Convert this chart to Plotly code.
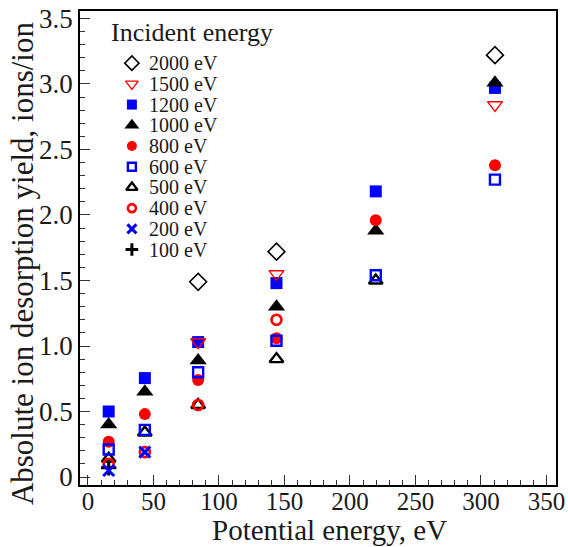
import plotly.graph_objects as go

# ---- data ----
potential = [15.8, 43.4, 84.1, 143.9, 219.7, 310.7]

labels = ["2000 eV", "1500 eV", "1200 eV", "1000 eV", "800 eV",
          "600 eV", "500 eV", "400 eV", "200 eV", "100 eV"]

x2000 = [84.1, 143.9, 310.7]
y2000 = [1.49, 1.72, 3.22]
x1500 = [84.1, 143.9, 310.7]
y1500 = [1.03, 1.55, 2.84]
x1200 = potential
y1200 = [0.50, 0.755, 1.03, 1.48, 2.18, 2.97]
x1000 = potential
y1000 = [0.40, 0.65, 0.89, 1.30, 1.88, 3.01]
x800 = potential
y800 = [0.27, 0.48, 0.74, 1.06, 1.96, 2.38]
x600 = potential
y600 = [0.21, 0.36, 0.80, 1.04, 1.54, 2.27]
x500 = [15.8, 43.4, 84.1, 143.9, 219.7]
y500 = [0.14, 0.34, 0.55, 0.90, 1.50]
x400 = [15.8, 43.4, 84.1, 143.9]
y400 = [0.10, 0.19, 0.55, 1.20]
x200 = [15.8, 43.4]
y200 = [0.05, 0.19]
x100 = [15.8]
y100 = [0.07]

xticks = [0, 50, 100, 150, 200, 250, 300, 350]
yticks = [0, 0.5, 1.0, 1.5, 2.0, 2.5, 3.0, 3.5]
yticklabels = ["0", "0.5", "1.0", "1.5", "2.0", "2.5", "3.0", "3.5"]

# ---- styles ----
BLUE = "#0000ff"
RED = "#ff0000"
BLACK = "#000000"
TXT = "#1a1a1a"
FONT = "Liberation Serif"

styles = {
    "2000 eV": dict(symbol="diamond-open", size=13, color=BLACK, line=dict(width=1.6, color=BLACK)),
    "1500 eV": dict(symbol="triangle-down-open", size=13, color=RED, line=dict(width=1.4, color=RED)),
    "1200 eV": dict(symbol="square", size=12, color=BLUE, line=dict(width=0, color=BLUE)),
    "1000 eV": dict(symbol="triangle-up", size=15, color=BLACK, line=dict(width=0, color=BLACK)),
    "800 eV": dict(symbol="circle", size=12, color=RED, line=dict(width=0, color=RED)),
    "600 eV": dict(symbol="square-open", size=10, color=BLUE, line=dict(width=2.4, color=BLUE)),
    "500 eV": dict(symbol="triangle-up-open", size=12, color=BLACK, line=dict(width=2.4, color=BLACK)),
    "400 eV": dict(symbol="circle-open", size=10, color=RED, line=dict(width=2.6, color=RED)),
    "200 eV": dict(symbol="x-thin-open", size=11, color=BLUE, line=dict(width=3, color=BLUE)),
    "100 eV": dict(symbol="cross-thin-open", size=11, color=BLACK, line=dict(width=3, color=BLACK)),
}

series = {
    "2000 eV": (x2000, y2000),
    "1500 eV": (x1500, y1500),
    "1200 eV": (x1200, y1200),
    "1000 eV": (x1000, y1000),
    "800 eV": (x800, y800),
    "600 eV": (x600, y600),
    "500 eV": (x500, y500),
    "400 eV": (x400, y400),
    "200 eV": (x200, y200),
    "100 eV": (x100, y100),
}

draw_order = ["2000 eV", "1200 eV", "1500 eV", "1000 eV", "800 eV",
              "500 eV", "600 eV", "400 eV", "100 eV", "200 eV"]

fig = go.Figure()
for name in draw_order:
    xs, ys = series[name]
    fig.add_trace(go.Scatter(x=xs, y=ys, mode="markers", name=name,
                             marker=styles[name], showlegend=False,
                             cliponaxis=False))

# ---- manual legend (layout positions in plot-area fractions) ----
LEG_MX = 0.109
LEG_TX = 0.141
LEG_Y0 = 0.890
LEG_DY = 0.0437
for i, name in enumerate(labels):
    yy = LEG_Y0 - i * LEG_DY
    mk = dict(styles[name])
    mk["size"] = max(mk["size"] - 2, 8)
    fig.add_trace(go.Scatter(x=[LEG_MX], y=[yy], mode="markers",
                             marker=mk, showlegend=False,
                             xaxis="x2", yaxis="y2", hoverinfo="skip"))
    fig.add_annotation(x=LEG_TX, y=yy, xref="x2", yref="y2", text=name,
                       showarrow=False, xanchor="left", yanchor="middle",
                       font=dict(family=FONT, size=20, color=TXT))
fig.add_annotation(x=0.060, y=0.955, xref="x2", yref="y2", text="Incident energy",
                   showarrow=False, xanchor="left", yanchor="middle",
                   font=dict(family=FONT, size=26, color=TXT))

# ---- axis titles ----
fig.add_annotation(x=0.525, y=-0.094, xref="paper", yref="paper",
                   text="Potential energy, eV", showarrow=False,
                   xanchor="center", yanchor="middle",
                   font=dict(family=FONT, size=29, color=TXT))
fig.add_annotation(x=-0.122, y=0.468, xref="paper", yref="paper",
                   text="Absolute ion desorption yield, ions/ion", showarrow=False,
                   textangle=-90, xanchor="center", yanchor="middle",
                   font=dict(family=FONT, size=31, color=TXT))

axis_common = dict(
    showline=True, linecolor=BLACK, linewidth=1.5, mirror=True,
    ticks="inside", ticklen=10, tickwidth=1.3, tickcolor="#333333",
    showgrid=False, zeroline=False, automargin=False,
)

fig.update_layout(
    width=568, height=547,
    margin=dict(l=80, r=12, t=11, b=62),
    paper_bgcolor="white", plot_bgcolor="white",
    xaxis=dict(range=[-6.1, 357.3], tickvals=xticks,
               tickfont=dict(family=FONT, size=25, color=TXT),
               ticklabelstandoff=-7,
               minor=dict(dtick=10, ticks="inside", ticklen=5, tickwidth=1.2, tickcolor="#333333"),
               **axis_common),
    yaxis=dict(range=[-0.061, 3.557], tickvals=yticks, ticktext=yticklabels,
               tickfont=dict(family=FONT, size=27, color=TXT),
               minor=dict(dtick=0.1, ticks="inside", ticklen=5, tickwidth=1.2, tickcolor="#333333"),
               **axis_common),
    xaxis2=dict(range=[0, 1], overlaying="x", visible=False, domain=[0, 1]),
    yaxis2=dict(range=[0, 1], overlaying="y", visible=False, domain=[0, 1]),
    showlegend=False,
)

fig.write_html("out.html")
